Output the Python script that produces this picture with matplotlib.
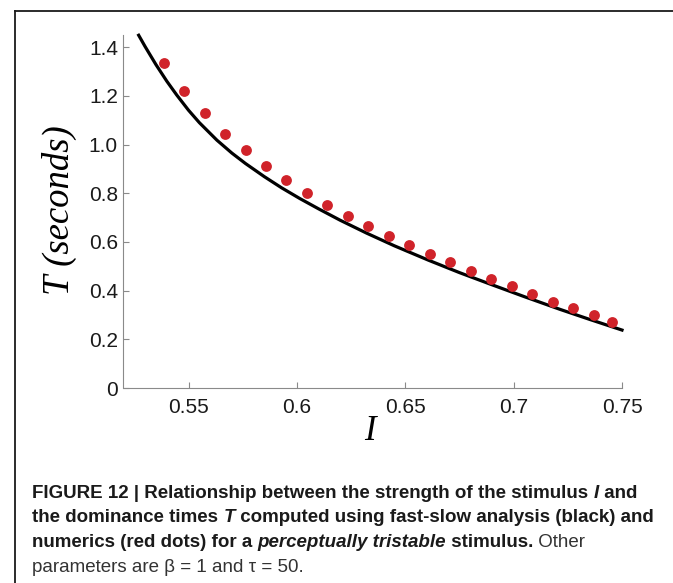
import matplotlib
matplotlib.use('Agg')
import matplotlib.pyplot as plt
from matplotlib.lines import Line2D
import numpy as np

plt.rcParams.update({
    'font.family': ['Liberation Sans', 'DejaVu Sans'],
    'xtick.direction': 'in',
    'ytick.direction': 'in',
    'axes.spines.top': False,
    'axes.spines.right': False,
})

# numerics (red dots)
dots_I = [0.5385, 0.5480, 0.5574, 0.5669, 0.5763, 0.5858, 0.5952, 0.6047,
          0.6141, 0.6236, 0.6330, 0.6425, 0.6519, 0.6614, 0.6708, 0.6803,
          0.6897, 0.6992, 0.7086, 0.7181, 0.7275, 0.7370, 0.7452]
dots_T = [1.336, 1.222, 1.128, 1.045, 0.976, 0.912, 0.854, 0.801,
          0.752, 0.707, 0.665, 0.624, 0.586, 0.550, 0.516, 0.482,
          0.449, 0.418, 0.386, 0.355, 0.327, 0.301, 0.271]

curve_I = [0.527, 0.530, 0.535, 0.540, 0.5446, 0.550, 0.555, 0.5631,
           0.570, 0.5763, 0.585, 0.593, 0.6014, 0.610, 0.620, 0.6322,
           0.645, 0.6607, 0.675, 0.6891, 0.705, 0.7214, 0.735, 0.750]
curve_T = [1.449, 1.402, 1.328, 1.260, 1.203, 1.141, 1.090, 1.018,
           0.965, 0.922, 0.868, 0.822, 0.778, 0.736, 0.689, 0.636,
           0.584, 0.525, 0.474, 0.427, 0.375, 0.323, 0.282, 0.238]

xticks = [0.55, 0.6, 0.65, 0.7, 0.75]
xticklabels = ['0.55', '0.6', '0.65', '0.7', '0.75']
yticks = [0, 0.2, 0.4, 0.6, 0.8, 1.0, 1.2, 1.4]
yticklabels = ['0', '0.2', '0.4', '0.6', '0.8', '1.0', '1.2', '1.4']

W, H = 673, 583
fig = plt.figure(figsize=(W / 100, H / 100), dpi=100)
ax = fig.add_axes([123.5 / W, 1 - 388 / H, 498.5 / W, 353 / H])

ax.plot(curve_I, curve_T, color='black', lw=2.3, zorder=2, clip_on=False,
        solid_joinstyle='round')
ax.plot(dots_I, dots_T, 'o', color='#D0232A', ms=7.8, mec='none', zorder=3)

ax.set_xlim(0.52, 0.75)
ax.set_ylim(0, 1.45)
ax.set_xticks(xticks)
ax.set_xticklabels(xticklabels)
ax.set_yticks(yticks)
ax.set_yticklabels(yticklabels)
for s in ['left', 'bottom']:
    ax.spines[s].set_color('#8a8a8a')
    ax.spines[s].set_linewidth(0.8)
ax.tick_params(colors='#8a8a8a', labelcolor='#1a1a1a', labelsize=15,
               length=4, width=0.8)
ax.tick_params(axis='x', pad=7)
ax.tick_params(axis='y', pad=4)

fig.text(59 / W, 1 - 210 / H, 'T (seconds)', rotation=90, ha='center', va='center',
         family='Liberation Serif', style='italic', fontsize=26.5)
fig.text(370 / W, 1 - 440 / H, 'I', ha='center', va='baseline',
         family='Liberation Serif', style='italic', fontsize=25)

# frame around the figure panel
fig.add_artist(Line2D([15 / W, 15 / W], [0, 1 - 11 / H], transform=fig.transFigure,
                      color='#1a1a1a', lw=1.3))
fig.add_artist(Line2D([15 / W, 1], [1 - 11 / H, 1 - 11 / H], transform=fig.transFigure,
                      color='#1a1a1a', lw=1.3))

# caption, written run by run
cap_family = ['Liberation Sans Narrow', 'Liberation Sans']
caption = [
    [('FIGURE 12 | Relationship between the strength of the stimulus ', 'bold', 'normal'),
     ('I', 'bold', 'italic'), (' and', 'bold', 'normal')],
    [('the dominance times ', 'bold', 'normal'), ('T', 'bold', 'italic'),
     (' computed using fast-slow analysis (black) and', 'bold', 'normal')],
    [('numerics (red dots) for a ', 'bold', 'normal'),
     ('perceptually tristable', 'bold', 'italic'),
     (' stimulus.', 'bold', 'normal'), (' Other', 'normal', 'normal')],
    [('parameters are β = 1 and τ = 50.', 'normal', 'normal')],
]
baselines = [498, 522, 547, 572]

fig.canvas.draw()
renderer = fig.canvas.get_renderer()
for runs, yb in zip(caption, baselines):
    x = 32
    for txt, wt, st in runs:
        t = fig.text(x / W, 1 - yb / H, txt, ha='left', va='baseline',
                     family=cap_family, weight=wt, style=st, fontsize=13.5,
                     color='#1a1a1a' if wt == 'bold' else '#333333')
        bb = t.get_window_extent(renderer=renderer)
        x += bb.width

fig.savefig('out.png', dpi=100)
